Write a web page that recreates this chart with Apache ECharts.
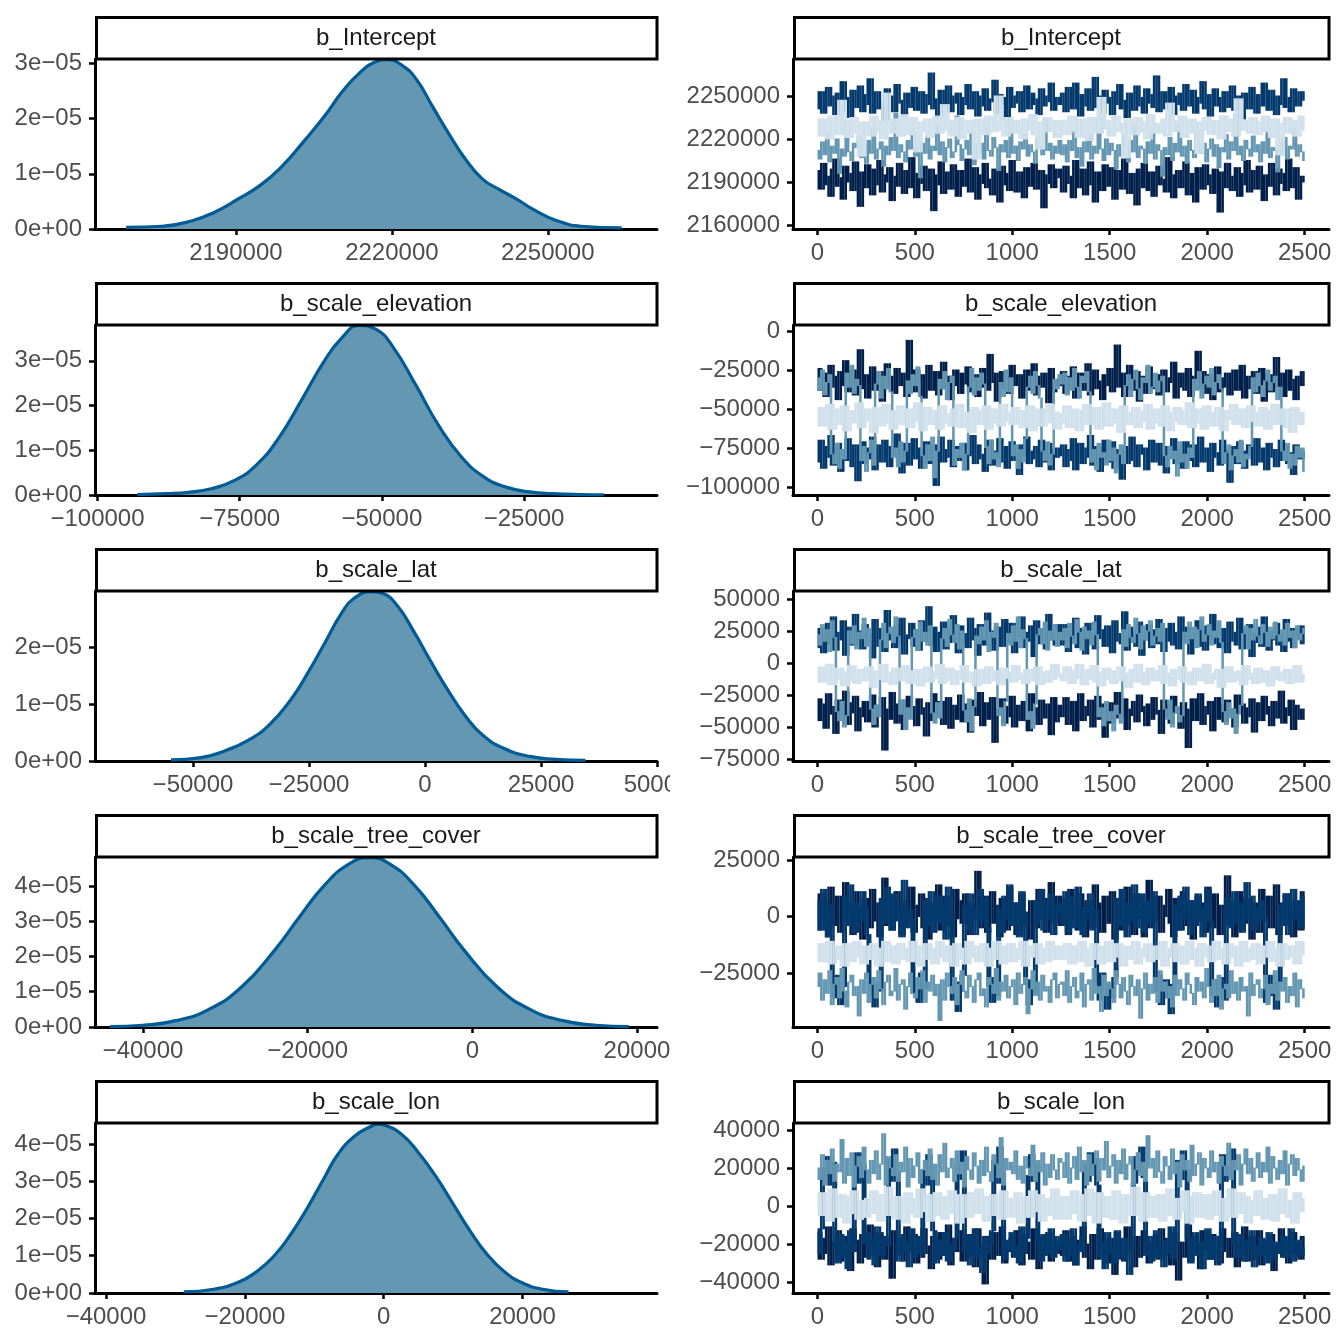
<!DOCTYPE html>
<html><head><meta charset="utf-8">
<script src="https://cdn.jsdelivr.net/npm/echarts@6/dist/echarts.min.js"></script>
<style>html,body{margin:0;padding:0;background:#fff}#chart{width:1339px;height:1330px}</style>
</head><body><div id="chart"></div>
<script>
// ---------------- DATA ----------------
const params = ['b_Intercept', 'b_scale_elevation', 'b_scale_lat', 'b_scale_tree_cover', 'b_scale_lon'];
const chainColors = ['#011f4b', '#03396c', '#6497b1', '#d1e1ec'];

// Posterior density curves (x = parameter value, y = density in units of 1e-05)
const densIntercept_x = [2168900,2175800,2181600,2185800,2190200,2194800,2198900,2202900,2207100,2210400,2213700,2216900,2219000,2221900,2224800,2227700,2231000,2234200,2237500,2240800,2244000,2247300,2251500,2256400,2264200];
const densIntercept_y = [0.03,0.05,0.15,0.30,0.53,0.80,1.14,1.57,2.05,2.48,2.82,3.03,3.07,2.97,2.70,2.24,1.72,1.26,0.90,0.71,0.54,0.35,0.16,0.05,0.02];
const densElevation_x = [-93000,-88000,-84000,-80000,-76000,-72000,-68000,-64000,-60000,-57000,-54000,-51000,-48000,-44000,-40000,-36000,-32000,-28000,-24000,-20000,-15000,-11000];
const densElevation_y = [0.01,0.03,0.06,0.14,0.32,0.68,1.30,2.15,3.02,3.52,3.79,3.70,3.30,2.45,1.55,0.85,0.40,0.17,0.07,0.03,0.01,0.005];
const densLat_x = [-54740,-48280,-42780,-38150,-33620,-28970,-25280,-21600,-17910,-15160,-11470,-9170,-5950,-2270,1420,5100,8790,12470,17080,22600,28140,34580];
const densLat_y = [0.02,0.06,0.19,0.36,0.63,1.07,1.54,2.07,2.60,2.86,2.97,2.94,2.72,2.25,1.72,1.22,0.78,0.45,0.22,0.08,0.03,0.01];
const densTree_x = [-44000,-40000,-36000,-32000,-28000,-24000,-21000,-18000,-15000,-12500,-10000,-7000,-4000,-1000,3000,7000,11000,15000,19000];
const densTree_y = [0.01,0.05,0.18,0.50,1.14,2.18,3.12,4.01,4.62,4.80,4.62,4.01,3.12,2.18,1.14,0.50,0.18,0.05,0.01];
const densLon_x = [-28790,-24480,-20790,-18330,-15860,-13400,-10940,-8470,-6630,-4160,-1700,-800,145,2610,5070,7540,10000,12460,14920,17390,19850,22930,26620];
const densLon_y = [0.03,0.10,0.30,0.57,0.98,1.57,2.30,3.12,3.71,4.21,4.48,4.53,4.50,4.25,3.75,3.12,2.39,1.66,1.03,0.57,0.28,0.10,0.03];

// MCMC traces, 4 chains x 2500 iterations, read as one value per 12.5 iterations (values in thousands)
const traceIntercept_c1 = [2191,2198,2185,2203,2188,2194,2180,2199,2206,2187,2193,2178,2201,2190,2196,2184,2204,2189,2173,2197,2186,2202,2192,2181,2199,2188,2205,2183,2195,2190,2200,2177,2194,2187,2203,2191,2182,2198,2186,2207,2193,2179,2196,2189,2201,2184,2192,2199,2170,2195,2188,2204,2182,2197,2190,2185,2202,2193,2180,2198,2187,2194,2206,2183,2191,2200,2178,2195,2189,2203,2186,2192,2181,2199,2194,2176,2201,2188,2196,2184,2205,2190,2183,2197,2192,2179,2200,2187,2194,2203,2185,2191,2198,2172,2195,2189,2202,2186,2193,2199,
2196,2183,2201,2189,2194,2179,2205,2190,2186,2199,2181,2193,2204,2188,2176,2197,2191,2184,2202,2195,2187,2200,2178,2192,2198,2185,2206,2189,2182,2196,2193,2174,2199,2186,2203,2190,2184,2197,2180,2194,2201,2188,2192,2183,2207,2195,2179,2190,2198,2186,2193,2204,2181,2196,2189,2176,2200,2192,2185,2202,2188,2195,2182,2199,2191,2169,2197,2186,2203,2190,2184,2194,2200,2180,2196,2188,2205,2183,2192,2198,2185,2201,2190,2177,2195,2187,2203,2193,2181,2199,2189,2196,2184,2206,2191,2186,2200,2178,2194,2190];
const traceIntercept_c2 = [2248,2241,2253,2238,2247,2256,2243,2250,2237,2252,2245,2260,2240,2249,2235,2254,2246,2242,2257,2239,2251,2244,2262,2238,2248,2253,2241,2246,2233,2255,2243,2250,2239,2258,2245,2247,2236,2252,2242,2249,2256,2240,2246,2253,2238,2251,2244,2266,2241,2248,2235,2254,2247,2243,2257,2239,2250,2245,2252,2237,2249,2244,2258,2241,2247,2253,2236,2250,2243,2255,2240,2248,2246,2261,2238,2251,2244,2249,2234,2256,2242,2250,2245,2253,2239,2247,2257,2241,2252,2244,2248,2237,2255,2243,2250,2246,2259,2240,2249,2245,
2244,2252,2239,2256,2246,2241,2259,2248,2236,2251,2243,2255,2240,2247,2263,2242,2250,2238,2254,2245,2249,2237,2253,2244,2258,2241,2247,2235,2252,2246,2240,2257,2243,2249,2238,2255,2245,2251,2242,2264,2239,2248,2253,2241,2246,2256,2237,2250,2244,2252,2240,2258,2246,2243,2254,2238,2249,2245,2260,2241,2251,2236,2247,2255,2243,2249,2239,2253,2246,2242,2257,2240,2250,2244,2234,2252,2247,2241,2256,2245,2238,2251,2243,2259,2246,2240,2254,2248,2237,2250,2244,2262,2242,2249,2239,2255,2246,2243,2253,2247];
const traceIntercept_c3 = [2212,2206,2218,2209,2224,2204,2215,2210,2220,2196,2213,2208,2233,2211,2205,2217,2214,2222,2207,2216,2203,2219,2210,2228,2206,2213,2218,2201,2215,2209,2221,2212,2238,2207,2216,2211,2204,2219,2213,2225,2208,2214,2193,2217,2210,2222,2206,2215,2212,2230,2209,2218,2204,2214,2220,2207,2211,2236,2216,2205,2213,2219,2209,2224,2202,2215,2210,2217,2206,2227,2212,2208,2221,2214,2198,2216,2211,2219,2207,2232,2210,2215,2205,2218,2213,2223,2208,2216,2211,2203,2220,2214,2209,2234,2212,2217,2206,2215,2210,2219,
2209,2216,2204,2219,2212,2226,2207,2214,2201,2218,2211,2223,2206,2215,2210,2235,2213,2205,2220,2209,2217,2212,2199,2216,2208,2222,2214,2204,2219,2211,2229,2207,2215,2213,2203,2218,2210,2224,2206,2216,2212,2194,2214,2209,2221,2205,2217,2211,2231,2208,2215,2203,2219,2212,2207,2226,2214,2210,2217,2204,2213,2220,2208,2216,2200,2214,2211,2223,2206,2218,2212,2237,2209,2215,2205,2219,2213,2208,2222,2211,2216,2204,2218,2210,2227,2207,2214,2212,2197,2217,2209,2221,2206,2215,2213,2228,2208,2216,2211,2205];
const traceIntercept_c4 = [2228,2222,2234,2225,2231,2220,2236,2226,2230,2223,2247,2227,2233,2221,2229,2235,2224,2230,2208,2232,2226,2231,2222,2236,2228,2225,2233,2220,2252,2229,2224,2234,2227,2231,2222,2237,2226,2230,2223,2235,2229,2211,2232,2225,2228,2234,2221,2230,2227,2236,2224,2229,2244,2226,2233,2222,2231,2228,2235,2220,2230,2226,2233,2224,2229,2206,2234,2227,2231,2223,2236,2228,2225,2232,2250,2226,2230,2222,2235,2229,2224,2233,2227,2231,2220,2234,2228,2226,2237,2223,2230,2213,2232,2227,2235,2225,2229,2233,2221,2228,
2227,2233,2223,2230,2236,2225,2229,2221,2234,2228,2231,2219,2235,2226,2232,2224,2249,2229,2227,2233,2222,2230,2236,2225,2231,2228,2207,2234,2226,2230,2223,2235,2229,2225,2232,2220,2237,2227,2231,2224,2230,2226,2234,2222,2245,2229,2233,2225,2228,2236,2221,2231,2227,2234,2224,2230,2210,2232,2226,2235,2229,2223,2233,2227,2231,2220,2236,2228,2225,2234,2230,2222,2248,2229,2233,2226,2231,2224,2235,2228,2223,2232,2227,2236,2225,2230,2221,2234,2229,2209,2231,2227,2235,2224,2230,2233,2222,2228,2236,2226];

const traceElevation_c1 = [-31,-24,-38,-27,-42,-33,-22,-36,-29,-44,-26,-35,-19,-39,-30,-25,-41,-34,-12,-37,-28,-43,-32,-23,-38,-30,-26,-45,-33,-21,-37,-29,-40,-24,-35,-31,-27,-42,-6,-34,-39,-25,-32,-28,-43,-36,-22,-38,-30,-26,-41,-33,-20,-37,-29,-44,-31,-25,-35,-40,-27,-34,-23,-39,-32,-28,-42,-36,-24,-30,-38,-15,-33,-27,-45,-31,-26,-37,-29,-40,-22,-35,-32,-28,-43,-30,-25,-38,-34,-21,-41,-29,-36,-27,-33,-46,-24,-39,-31,-35,
-33,-26,-40,-29,-36,-23,-43,-31,-27,-38,-34,-21,-41,-30,-25,-37,-32,-44,-28,-35,-24,-39,-31,-9,-36,-27,-42,-33,-22,-38,-30,-26,-45,-34,-29,-40,-23,-37,-32,-28,-41,-35,-25,-39,-30,-33,-20,-43,-36,-27,-31,-38,-24,-42,-34,-29,-13,-37,-26,-40,-32,-28,-44,-35,-23,-39,-30,-36,-27,-41,-33,-25,-38,-31,-22,-43,-34,-29,-37,-26,-40,-32,-24,-45,-35,-28,-39,-30,-17,-36,-27,-42,-33,-25,-38,-31,-44,-29,-35,-26];
const traceElevation_c2 = [-77,-84,-70,-88,-74,-81,-67,-86,-79,-72,-90,-76,-83,-69,-80,-87,-73,-96,-78,-71,-85,-75,-82,-68,-89,-77,-73,-84,-70,-80,-87,-74,-79,-66,-83,-91,-76,-72,-86,-78,-69,-82,-75,-88,-80,-71,-85,-77,-73,-99,-79,-68,-84,-76,-81,-70,-87,-74,-83,-78,-72,-89,-76,-80,-67,-85,-73,-82,-79,-90,-75,-70,-86,-77,-81,-69,-84,-74,-88,-78,-71,-83,-76,-92,-73,-80,-68,-85,-77,-82,-74,-87,-70,-79,-84,-72,-89,-76,-81,-75,
-80,-73,-87,-76,-83,-69,-89,-78,-72,-85,-75,-81,-67,-86,-79,-74,-90,-77,-70,-84,-82,-71,-88,-76,-80,-95,-74,-85,-78,-68,-83,-87,-73,-79,-75,-89,-81,-70,-84,-77,-72,-86,-78,-91,-74,-80,-69,-85,-82,-76,-88,-71,-79,-83,-73,-87,-77,-68,-84,-80,-75,-90,-72,-81,-78,-86,-70,-83,-76,-97,-79,-74,-85,-71,-82,-88,-77,-73,-80,-86,-69,-84,-78,-75,-89,-72,-81,-76,-87,-79,-70,-83,-74,-85,-78,-92,-73,-80,-82,-77];
const traceElevation_c3 = [-30,-38,-25,-41,-33,-28,-79,-85,-72,-88,-76,-82,-27,-36,-22,-40,-31,-35,-83,-74,-90,-78,-70,-86,-34,-26,-43,-29,-37,-24,-39,-81,-75,-87,-71,-84,-77,-32,-40,-28,-35,-23,-42,-80,-88,-73,-83,-68,-94,-77,-31,-37,-26,-44,-33,-29,-86,-76,-81,-72,-89,-79,-36,-24,-41,-30,-38,-27,-34,-74,-85,-70,-82,-78,-87,-33,-42,-25,-39,-30,-80,-73,-88,-76,-84,-69,-36,-29,-40,-26,-35,-43,-77,-83,-71,-86,-79,-31,-37,-28,
-34,-27,-41,-30,-38,-24,-36,-43,-29,-33,-26,-39,-84,-76,-89,-72,-81,-78,-86,-70,-83,-75,-91,-79,-73,-85,-35,-28,-42,-31,-25,-37,-44,-30,-33,-22,-40,-36,-27,-39,-32,-29,-80,-87,-74,-82,-77,-93,-71,-84,-79,-88,-75,-81,-31,-38,-26,-43,-34,-29,-36,-24,-41,-33,-28,-37,-85,-78,-73,-89,-80,-76,-84,-70,-87,-79,-82,-74,-30,-39,-27,-35,-42,-32,-25,-38,-33,-29,-44,-36,-77,-83,-72,-88,-79,-86,-74,-81,-75,-90];
const traceElevation_c4 = [-55,-49,-61,-52,-58,-47,-63,-54,-50,-60,-56,-48,-64,-53,-59,-51,-57,-46,-62,-55,-50,-58,-53,-65,-49,-56,-61,-52,-47,-59,-54,-63,-51,-57,-48,-60,-55,-50,-62,-53,-58,-46,-56,-64,-52,-49,-60,-54,-57,-51,-63,-48,-55,-59,-53,-61,-50,-56,-47,-62,-54,-58,-52,-65,-49,-57,-60,-51,-55,-48,-63,-53,-59,-50,-56,-61,-47,-58,-54,-52,-60,-49,-57,-55,-62,-51,-58,-48,-64,-53,-56,-50,-61,-54,-59,-47,-57,-52,-63,-55,
-53,-59,-48,-62,-55,-50,-57,-64,-51,-56,-47,-60,-54,-58,-49,-63,-52,-57,-46,-61,-55,-50,-59,-53,-65,-48,-56,-60,-52,-57,-49,-62,-54,-51,-58,-47,-63,-55,-50,-59,-53,-61,-48,-56,-64,-52,-58,-49,-55,-60,-51,-57,-46,-62,-54,-50,-59,-53,-63,-48,-56,-52,-61,-55,-49,-58,-64,-51,-57,-53,-47,-60,-54,-59,-50,-62,-56,-48,-58,-52,-61,-55,-49,-57,-63,-51,-56,-47,-60,-54,-58,-50,-62,-53,-65,-49,-57,-55,-60,-52];

const traceLat_c1 = [-36,-28,-45,-32,-51,-24,-40,-34,-55,-29,-43,-37,-22,-48,-31,-39,-26,-53,-35,-42,-30,-46,-38,-25,-50,-33,-41,-27,-68,-36,-44,-23,-39,-47,-32,-29,-52,-37,-26,-43,-34,-49,-28,-40,-35,-57,-31,-45,-24,-38,-42,-30,-48,-36,-27,-51,-33,-44,-39,-25,-46,-32,-37,-54,-29,-41,-35,-23,-49,-38,-31,-44,-27,-62,-36,-40,-28,-47,-34,-42,-26,-50,-33,-39,-45,-30,-37,-53,-24,-41,-35,-48,-29,-43,-32,-38,-56,-27,-46,-36,
-33,-42,-27,-48,-36,-30,-53,-39,-24,-45,-34,-41,-29,-50,-37,-26,-44,-32,-58,-38,-31,-47,-35,-23,-43,-39,-28,-52,-36,-41,-30,-46,-25,-38,-34,-49,-32,-44,-27,-40,-37,-55,-29,-42,-33,-47,-26,-39,-35,-51,-31,-43,-66,-36,-28,-45,-38,-24,-48,-34,-40,-30,-53,-37,-27,-44,-33,-46,-29,-41,-36,-50,-25,-39,-32,-47,-35,-42,-28,-54,-38,-31,-45,-26,-40,-34,-49,-30,-43,-37,-22,-47,-35,-41,-29,-52,-33,-39,-44,-36];
const traceLat_c2 = [19,12,27,8,23,31,15,36,10,24,18,33,6,21,28,14,38,17,25,11,30,16,22,4,34,20,13,27,9,41,18,24,12,29,15,35,7,22,19,31,13,26,10,33,17,21,44,14,28,9,24,19,32,11,26,16,37,20,8,29,15,23,12,35,18,27,6,30,21,14,39,17,25,10,28,19,13,34,22,16,31,8,26,20,36,12,24,17,29,5,33,21,15,27,11,38,18,23,14,30,
22,14,30,9,25,18,35,12,27,20,7,31,16,24,11,37,19,26,13,29,21,8,33,17,23,15,40,10,28,19,25,13,32,6,22,18,30,12,26,15,34,20,9,27,17,31,14,24,11,36,21,16,28,7,23,19,33,13,25,10,29,18,38,15,22,12,27,20,8,32,17,24,14,35,11,26,19,30,5,23,16,28,13,36,20,10,25,18,31,14,22,9,34,17,27,12,24,19,29,15];
const traceLat_c3 = [22,14,30,17,26,9,33,20,-38,-45,-30,-50,-41,25,15,29,11,24,19,35,13,27,-36,-48,-33,-42,18,31,12,23,28,16,36,21,-40,-29,-52,-35,-44,20,26,10,32,17,24,14,29,-39,-47,-31,-43,19,27,13,34,22,16,30,11,25,-37,-46,-28,-53,-34,21,15,28,18,33,9,24,20,31,-41,-35,-49,-30,23,14,29,17,36,12,26,19,-44,-38,-51,-32,22,27,15,32,10,25,18,30,13,24,
18,27,12,31,21,15,34,24,10,28,19,25,14,32,22,-42,-35,-49,-30,-45,-38,-53,-33,-40,-47,26,13,30,20,16,35,23,11,29,18,25,33,14,21,27,17,31,-36,-44,-29,-50,-39,-34,-46,-41,24,15,32,19,28,12,26,36,17,22,30,14,25,20,33,16,-38,-48,-31,-43,-36,-55,-40,-33,23,29,11,27,18,34,21,15,30,24,13,28,19,32,22,17,26,14,31,20,25,12,29,18,23,27];
const traceLat_c4 = [-9,-3,-15,-6,-12,-1,-17,-8,-13,-4,-11,-18,-7,-14,-2,-10,-16,-5,-12,-8,-14,-3,-10,-19,-6,-13,-9,-1,-15,-7,-11,-17,-4,-12,-8,-14,-2,-10,-16,-6,-11,-5,-18,-9,-13,-3,-15,-7,-12,-10,-1,-16,-8,-14,-4,-11,-17,-6,-13,-9,-2,-15,-7,-12,-10,-18,-5,-13,-8,-16,-3,-11,-14,-6,-9,-17,-4,-12,-10,-7,-15,-2,-13,-8,-11,-16,-5,-14,-9,-12,-3,-17,-7,-10,-15,-6,-13,-1,-11,-8,
-8,-14,-3,-11,-16,-6,-12,-1,-9,-17,-5,-13,-10,-2,-15,-7,-18,-11,-4,-13,-9,-16,-6,-12,-3,-14,-8,-19,-10,-5,-15,-1,-11,-7,-17,-13,-4,-9,-14,-6,-12,-2,-16,-10,-8,-18,-5,-13,-11,-3,-15,-7,-9,-17,-12,-4,-14,-6,-10,-1,-16,-8,-13,-11,-5,-19,-9,-12,-3,-15,-7,-14,-10,-6,-17,-2,-11,-13,-8,-16,-4,-12,-9,-15,-6,-18,-10,-3,-13,-7,-14,-11,-5,-16,-8,-12,-2,-15,-9,-10];

const traceTree_c1 = [3,-6,10,-2,7,-9,13,1,-4,9,-7,5,15,-1,6,-8,11,-3,4,-10,8,0,-5,12,-2,6,-9,3,17,-4,9,-6,2,11,-1,-8,7,4,-3,13,-7,5,0,10,-5,8,-10,2,6,-2,14,-6,3,9,-4,1,-9,12,-1,7,-3,10,4,-8,6,-1,20,-5,3,9,-7,0,11,-3,5,-9,8,2,-6,13,-2,6,-8,4,10,-4,1,-10,7,3,-5,12,-1,8,-7,5,15,-3,2,9,
-4,8,1,-8,12,-2,5,-6,10,0,-9,7,3,-5,14,-1,6,-7,9,2,-3,11,-10,4,8,-6,1,13,-4,6,-8,10,-1,3,-9,7,16,-5,2,-2,9,-7,5,0,12,-3,-9,8,4,-6,11,1,-4,7,-10,3,9,-2,6,-7,13,0,-5,10,2,-8,5,-1,18,-4,7,-9,3,11,-6,1,8,-3,-10,6,4,-7,12,0,-2,9,-5,3,14,-8,6,-1,10,-4,2,-9,7,1,-6,11];
const traceTree_c2 = [-1,7,-6,12,2,-9,5,-30,-36,-26,-39,-31,9,-4,14,0,-7,6,-2,11,4,-8,-27,-35,-40,-29,-33,8,-3,13,1,-6,10,-2,5,-9,16,-5,3,-1,-34,-28,-38,-25,-32,7,-4,11,-7,2,9,-3,6,-10,13,0,-37,-29,-42,-33,-26,5,-6,10,1,-8,4,12,-2,8,-5,-31,-38,-27,-35,3,-7,9,-1,14,-4,6,0,-9,11,2,-30,-39,-28,-34,7,-3,12,-6,4,-1,10,-8,5,1,
6,-3,11,-7,2,9,-5,13,0,-8,4,-1,10,-6,3,-29,-37,-25,-34,-41,-30,-36,-27,8,-4,12,1,-9,6,-2,14,-5,3,10,-7,0,7,-3,11,-33,-26,-39,-31,-28,-36,-43,-30,5,-6,9,-1,13,2,-8,7,-4,10,0,-9,4,12,-2,-35,-28,-40,-32,-27,-37,8,-5,3,11,-3,6,-7,1,15,-1,9,-6,4,-2,7,0,-38,-30,-26,-35,-41,-29,5,-4,10,-8,2,12,-1,6,-5,9];
const traceTree_c3 = [-31,-25,-37,-28,-34,-24,-39,-30,-27,-36,-23,-33,-40,-29,-26,-35,-31,-44,-28,-34,-25,-38,-30,-27,-36,-24,-32,-39,-29,-26,-35,-33,-23,-37,-30,-28,-41,-31,-25,-34,-36,-27,-32,-24,-38,-29,-33,-26,-35,-30,-46,-28,-37,-25,-31,-34,-27,-39,-30,-24,-33,-36,-26,-31,-38,-28,-25,-35,-32,-40,-27,-30,-34,-23,-37,-29,-33,-26,-36,-31,-28,-39,-25,-34,-30,-27,-43,-32,-24,-35,-29,-37,-26,-33,-31,-38,-28,-25,-36,-30,
-29,-35,-24,-38,-31,-27,-36,-33,-25,-40,-30,-28,-37,-23,-34,-31,-42,-26,-35,-29,-32,-38,-24,-30,-36,-27,-33,-39,-26,-31,-35,-28,-45,-32,-25,-37,-30,-34,-27,-38,-24,-33,-29,-36,-31,-40,-26,-35,-28,-32,-37,-25,-30,-34,-39,-27,-33,-29,-36,-23,-31,-38,-28,-35,-26,-41,-32,-30,-36,-24,-34,-29,-37,-27,-33,-31,-44,-25,-35,-30,-28,-36,-32,-26,-39,-30,-34,-24,-37,-29,-33,-27,-38,-31,-35,-25,-40,-28,-32,-36];
const traceTree_c4 = [-16,-12,-20,-14,-18,-11,-21,-15,-13,-19,-17,-22,-12,-16,-20,-14,-11,-18,-15,-21,-13,-17,-19,-12,-16,-22,-14,-18,-11,-20,-15,-13,-21,-17,-12,-19,-16,-14,-20,-11,-18,-15,-22,-13,-17,-12,-19,-16,-21,-14,-11,-18,-15,-20,-13,-17,-22,-12,-16,-19,-14,-21,-11,-18,-15,-13,-20,-17,-12,-16,-22,-14,-19,-11,-18,-15,-21,-13,-17,-12,-20,-16,-14,-19,-11,-22,-15,-18,-13,-17,-12,-21,-16,-14,-20,-11,-18,-15,-19,-13,
-15,-19,-12,-17,-21,-13,-16,-20,-11,-18,-14,-22,-16,-12,-19,-15,-21,-13,-17,-11,-20,-14,-18,-12,-16,-22,-13,-19,-15,-17,-11,-21,-14,-18,-16,-12,-20,-13,-17,-15,-19,-11,-22,-14,-16,-18,-12,-20,-15,-13,-21,-17,-11,-19,-14,-16,-22,-12,-18,-15,-13,-20,-16,-11,-19,-14,-17,-21,-12,-15,-18,-13,-22,-16,-11,-20,-14,-17,-19,-12,-16,-21,-13,-18,-15,-11,-20,-14,-17,-22,-12,-19,-15,-13,-18,-16,-21,-11,-17,-14];

const traceLon_c1 = [-21,-14,-28,-17,-25,-11,-31,-19,-23,-13,-29,-16,-26,-20,-34,-12,-24,-18,-30,-15,-22,-27,-10,-25,-19,-32,-14,-21,-28,-16,-23,-38,-13,-26,-20,-17,-29,-11,-24,-22,-15,-30,-18,-27,-12,-25,-21,-33,-16,-19,-28,-14,-23,-26,-10,-31,-20,-17,-24,-13,-29,-22,-15,-27,-18,-32,-12,-25,-20,-41,-16,-23,-28,-14,-21,-26,-11,-30,-19,-24,-17,-27,-13,-22,-31,-15,-25,-19,-28,-12,-23,-33,-16,-20,-26,-14,-29,-18,-22,-25,
-19,-26,-13,-29,-22,-16,-31,-18,-24,-11,-27,-20,-33,-15,-23,-28,-12,-25,-19,-30,-17,-22,-36,-14,-26,-21,-29,-11,-24,-18,-32,-16,-27,-20,-13,-25,-30,-19,-23,-15,-28,-12,-21,-26,-17,-31,-14,-24,-39,-19,-27,-22,-10,-29,-16,-25,-20,-33,-13,-23,-18,-28,-15,-26,-21,-30,-12,-24,-17,-27,-22,-14,-32,-19,-25,-11,-29,-20,-16,-28,-23,-13,-31,-18,-26,-21,-15,-34,-20,-24,-12,-27,-17,-30,-22,-14,-25,-19,-28,-16];
const traceLon_c2 = [-18,-25,-12,20,14,26,11,23,-22,-30,-15,-27,-19,-33,-13,-24,17,28,12,22,-20,-14,-28,-17,-31,-11,-23,-26,-16,-21,25,13,30,18,-29,-15,-24,-19,-32,-12,-27,-21,-16,-25,19,11,27,15,-13,-30,-22,-18,-26,-14,-29,-20,-23,-17,21,14,29,-24,-15,-31,-19,-12,-27,-22,-35,-16,-25,-20,-13,24,12,31,17,-28,-18,-23,-14,-26,-21,-30,-11,-24,-17,16,27,13,22,-19,-29,-15,-25,-22,-12,-27,-20,-16,
-23,-15,-29,-18,-26,-12,-31,-20,-24,-16,22,13,28,17,25,11,-27,-19,-33,-14,-25,-21,-30,-13,-22,-28,-17,-24,-36,-19,12,26,18,31,15,-26,-16,-29,-21,-13,-27,-23,-32,-18,-25,-11,-28,-20,24,14,29,19,-17,-30,-22,-14,-26,-19,-33,-24,-12,-28,-21,-16,-31,-23,27,13,21,16,30,-20,-27,-15,-25,-29,-18,-23,-13,-32,-21,-26,-17,-24,-30,-14,-22,-28,-19,-25,-20,-16,-27,-23,-12,-29,-21,-18,-26,-22];
const traceLon_c3 = [20,14,27,11,24,17,30,13,22,18,35,12,25,16,28,10,21,26,15,31,19,12,24,17,29,14,22,38,11,26,20,16,27,13,23,18,31,10,25,15,21,28,12,19,24,16,30,14,22,11,27,18,33,15,20,25,13,29,17,23,10,26,19,14,28,21,12,24,16,31,18,13,27,22,15,36,11,25,19,23,17,29,14,21,12,26,20,16,32,13,24,18,28,11,22,15,27,19,14,25,
23,15,28,12,20,26,14,31,18,24,11,27,16,22,29,13,25,19,34,15,21,27,12,24,17,30,14,22,26,11,19,28,16,23,13,37,20,25,15,29,18,12,26,21,14,30,17,23,10,27,19,24,13,32,16,22,28,11,25,20,15,29,18,23,12,26,21,16,33,14,24,19,27,11,22,30,17,25,13,20,28,15,23,18,31,12,26,20,14,24,17,29,11,22,27,16,25,19,13,21];
const traceLon_c4 = [1,-5,7,-2,4,-8,9,-3,2,-6,6,-1,-9,5,-4,8,0,-7,3,-2,-6,4,-1,8,-4,2,-8,6,-3,10,-5,1,-7,5,-2,3,-9,7,0,-4,4,-6,9,-1,-3,6,-8,2,-5,7,1,-2,-7,5,-4,8,-1,3,-9,6,-3,2,-6,7,0,-4,9,-2,5,-8,1,-5,6,-1,3,-7,8,-3,4,-6,2,-4,7,-9,5,-1,3,-6,8,0,-3,6,-8,2,-5,4,-2,9,-7,1,
-2,5,-7,3,-4,8,-1,6,-8,2,-5,9,-3,4,-9,7,0,-6,5,-2,3,-7,8,-4,1,-9,6,-1,4,-5,10,-3,2,-8,7,-2,5,-6,0,-4,6,-8,3,-1,9,-5,2,-7,4,-3,8,0,-9,5,-2,7,-6,1,-4,6,-7,3,-1,8,-5,2,-8,4,-3,9,-6,1,-2,7,-4,5,-9,3,0,-5,8,-3,4,-7,2,-1,6,-8,5,-4,9,-2,3,-6,1,-9,7,-3,4,-1];

// Axis limits and tick values
const densXRange = [[2162900, 2271000], [-100440, -1630], [-71120, 50000], [-45830, 22430], [-41585, 39370]];
const densXTicks = [[2190000, 2220000, 2250000], [-100000, -75000, -50000, -25000], [-50000, -25000, 0, 25000, 50000], [-40000, -20000, 0, 20000], [-40000, -20000, 0, 20000]];
const densYMax = [3.08e-5, 3.80e-5, 2.98e-5, 4.82e-5, 4.56e-5];
const densYTicks = [[0, 1e-5, 2e-5, 3e-5], [0, 1e-5, 2e-5, 3e-5], [0, 1e-5, 2e-5], [0, 1e-5, 2e-5, 3e-5, 4e-5], [0, 1e-5, 2e-5, 3e-5, 4e-5]];
const densYTickLabels = ['0e+00', '1e\u221205', '2e\u221205', '3e\u221205', '4e\u221205'];
const traceXRange = [-125, 2625];
const traceXTicks = [0, 500, 1000, 1500, 2000, 2500];
const traceYRange = [[2157200, 2275800], [-105130, 3850], [-76560, 56250], [-48890, 26330], [-45790, 43680]];
const traceYTicks = [[2160000, 2190000, 2220000, 2250000], [-100000, -75000, -50000, -25000, 0], [-75000, -50000, -25000, 0, 25000, 50000], [-25000, 0, 25000], [-40000, -20000, 0, 20000, 40000]];
const traceIterations = 2500;

// ---------------- BUILD ----------------
const densX = [densIntercept_x, densElevation_x, densLat_x, densTree_x, densLon_x];
const densY = [densIntercept_y, densElevation_y, densLat_y, densTree_y, densLon_y];
const traces = [
  [traceIntercept_c1, traceIntercept_c2, traceIntercept_c3, traceIntercept_c4],
  [traceElevation_c1, traceElevation_c2, traceElevation_c3, traceElevation_c4],
  [traceLat_c1, traceLat_c2, traceLat_c3, traceLat_c4],
  [traceTree_c1, traceTree_c2, traceTree_c3, traceTree_c4],
  [traceLon_c1, traceLon_c2, traceLon_c3, traceLon_c4]
];
// number of neighbouring draws merged into one screen column (the top, lightest chain is densest)
const chainWindow = [3, 3, 2, 4];

const FONT = '"Liberation Sans", Arial, Helvetica, sans-serif';
const LABEL_COLOR = '#4d4d4d';
const W = 1339;
const PANEL_TOP0 = 59, ROW_PITCH = 266, PANEL_H = 170, STRIP_H = 43;
const LEFT_COL = { x0: 95, x1: 657 };
const RIGHT_COL = { x0: 793, x1: 1329 };

const fmtNum = v => (v < 0 ? '\u2212' + Math.abs(v) : String(v));
const fmtDens = v => densYTickLabels[Math.round(v * 1e5)];

function axisStyle(ticks, fmt, margin) {
  return {
    axisLine: { show: true, onZero: false, lineStyle: { color: '#000', width: 3 } },
    axisTick: { show: true, customValues: ticks, length: 6, lineStyle: { color: '#000', width: 2.5 } },
    axisLabel: { show: true, customValues: ticks, formatter: fmt, color: LABEL_COLOR, fontSize: 24, fontFamily: FONT, margin: margin },
    splitLine: { show: false }
  };
}

// At this resolution a 2500-iteration trace becomes one vertical stroke per pixel column, spanning the
// range of the draws that fall in that column; each stroke spans the draws around one read-off point.
function traceColumns(chain, win) {
  const n = chain.length, step = (traceIterations - 1) / (n - 1), out = [];
  const before = win > 3 ? 1 : 0;
  for (let k = 0; k < n - 1; k++) {
    const vals = chain.slice(Math.max(0, k - before), Math.min(n, k - before + win)).map(v => v * 1000);
    out.push([1 + (k + 0.5) * step, Math.min.apply(null, vals), Math.max.apply(null, vals), step]);
  }
  return out;
}

const grids = [], xAxes = [], yAxes = [], series = [], graphics = [];

params.forEach((p, i) => {
  const top = PANEL_TOP0 + i * ROW_PITCH;
  [LEFT_COL, RIGHT_COL].forEach((col, c) => {
    const gi = grids.length;
    grids.push({ left: col.x0, right: W - col.x1, top: top, height: PANEL_H, containLabel: false });
    if (c === 0) {
      xAxes.push(Object.assign({ type: 'value', gridIndex: gi, min: densXRange[i][0], max: densXRange[i][1] }, axisStyle(densXTicks[i], fmtNum, 12)));
      yAxes.push(Object.assign({ type: 'value', gridIndex: gi, min: 0, max: densYMax[i] }, axisStyle(densYTicks[i], fmtDens, 13)));
      series.push({
        type: 'line', xAxisIndex: gi, yAxisIndex: gi,
        data: densX[i].map((x, k) => [x, densY[i][k] * 1e-5]),
        smooth: 0.5, showSymbol: false, silent: true,
        lineStyle: { color: '#005b96', width: 3.2 },
        areaStyle: { color: '#6497b1', opacity: 1 }
      });
    } else {
      xAxes.push(Object.assign({ type: 'value', gridIndex: gi, min: traceXRange[0], max: traceXRange[1] }, axisStyle(traceXTicks, fmtNum, 12)));
      yAxes.push(Object.assign({ type: 'value', gridIndex: gi, min: traceYRange[i][0], max: traceYRange[i][1] }, axisStyle(traceYTicks[i], fmtNum, 13)));
      traces[i].forEach((chain, ci) => {
        const color = chainColors[ci];
        series.push({
          type: 'custom', xAxisIndex: gi, yAxisIndex: gi, silent: true, clip: true, z: 2 + ci,
          data: traceColumns(chain, chainWindow[ci]),
          encode: { x: 0, y: [1, 2] },
          renderItem: (prm, api) => {
            const lo = api.coord([api.value(0), api.value(1)]);
            const hi = api.coord([api.value(0), api.value(2)]);
            const w = api.size([api.value(3), 0])[0] * 1.04;
            return { type: 'rect', shape: { x: lo[0] - w / 2, y: hi[1] - 0.5, width: w, height: lo[1] - hi[1] + 1 },
                     style: { fill: color } };
          }
        });
      });
    }
    // facet strip
    const sx = col.x0 + 1.5, sw = col.x1 - col.x0 - 1.5;
    graphics.push({
      type: 'rect', shape: { x: sx, y: top - STRIP_H + 1.5, width: sw, height: STRIP_H - 1.5 },
      style: { fill: '#fff', stroke: '#000', lineWidth: 3 }, z: 10
    });
    graphics.push({
      type: 'text', z: 11,
      style: { text: p, x: col.x0 + (col.x1 - col.x0) / 2, y: top - STRIP_H / 2 + 0.5, align: 'center', verticalAlign: 'middle',
               fontSize: 24, fontFamily: FONT, fill: '#1a1a1a' }
    });
  });
});

// the original figure clips the last tick label of the b_scale_lat density panel at the panel edge
graphics.push({ type: 'rect', shape: { x: 670, y: PANEL_TOP0 + 2 * ROW_PITCH + PANEL_H + 8, width: 40, height: 30 }, style: { fill: '#fff' }, z: 12 });

const chart = echarts.init(document.getElementById('chart'), null, { renderer: 'canvas' });
chart.setOption({
  animation: false,
  backgroundColor: '#fff',
  grid: grids, xAxis: xAxes, yAxis: yAxes, series: series,
  graphic: graphics
});
</script></body></html>
